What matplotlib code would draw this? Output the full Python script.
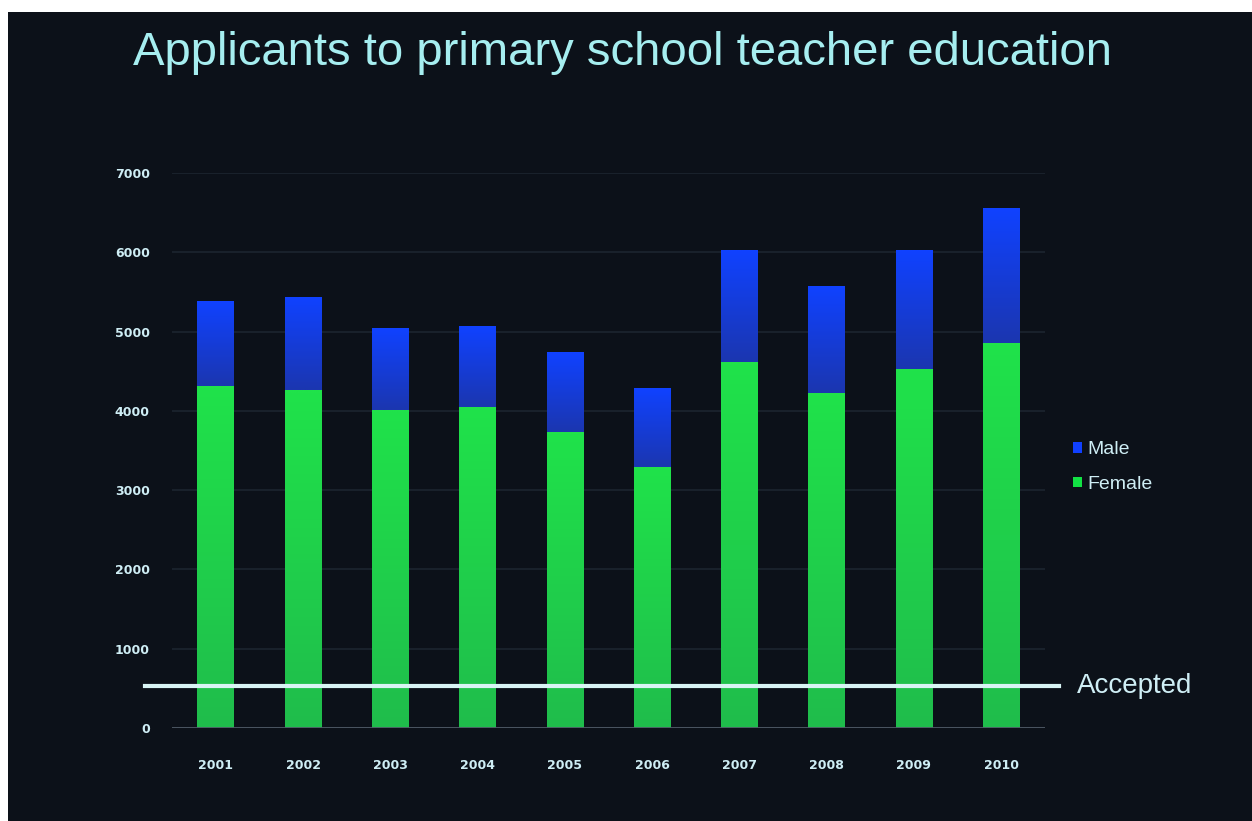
import numpy as np
import matplotlib.pyplot as plt
from matplotlib.colors import to_rgb
from matplotlib.patches import Rectangle

# values
years = ["2001", "2002", "2003", "2004", "2005", "2006", "2007", "2008", "2009", "2010"]
female = [4320, 4260, 4010, 4050, 3730, 3290, 4615, 4225, 4530, 4860]
total = [5380, 5430, 5040, 5060, 4730, 4280, 6020, 5570, 6020, 6560]
male = [t - f for t, f in zip(total, female)]
accepted = 530

bg = "#0c1119"
text_col = "#cfeef5"


def shade(ax, bars, top, bottom):
    # vertical gradient inside each bar, like the slide
    g = np.linspace(0, 1, 64)[:, None, None]
    img = np.array(to_rgb(top)) * (1 - g) + np.array(to_rgb(bottom)) * g
    for p in bars:
        x0, y0, w, h = p.get_x(), p.get_y(), p.get_width(), p.get_height()
        ax.imshow(img, extent=[x0, x0 + w, y0, y0 + h], aspect="auto",
                  origin="upper", zorder=3.5, interpolation="bilinear")


fig = plt.figure(figsize=(12.52, 8.21), dpi=100, facecolor="white")
# dark slide with thin white strip at top and left (photo margin)
fig.add_artist(Rectangle((8 / 1252, 0), 1, 1 - 12 / 821, transform=fig.transFigure,
                         facecolor=bg, edgecolor="none", zorder=-10))

ax = fig.add_axes([0.1375, 0.1133, 0.697, 0.6757])
ax.set_facecolor(bg)

x = np.arange(len(years))
fbars = ax.bar(x, female, width=0.42, color="#12e244", label="Female", zorder=3)
mbars = ax.bar(x, male, width=0.42, bottom=female, color="#1040ff", label="Male", zorder=3)
shade(ax, fbars, "#20e24a", "#1fbd4c")
shade(ax, mbars, "#1042ff", "#1b36b0")

ax.set_xlim(-0.5, len(years) - 0.5)
ax.set_ylim(0, 7000)
ax.set_yticks(range(0, 7001, 1000))
ax.set_xticks(x)
ax.set_xticklabels(years)
ax.tick_params(axis="both", length=0, colors=text_col, labelsize=9)
ax.tick_params(axis="x", pad=22)
ax.tick_params(axis="y", pad=16)
for lab in ax.get_xticklabels() + ax.get_yticklabels():
    lab.set_fontweight("bold")

ax.grid(axis="y", color="#19212b", lw=1.5, zorder=1)
for s in ax.spines.values():
    s.set_visible(False)
ax.axhline(0, color="#4f5a66", lw=2, zorder=4)

# accepted line runs a bit past the plot area
ax.axhline(accepted, xmin=-0.031, xmax=1.016, color="#d8f4f4", lw=3, clip_on=False, zorder=5)
ax.text(1.037, accepted, "Accepted", transform=ax.get_yaxis_transform(),
        color=text_col, fontsize=20, va="center", ha="left", family="Liberation Sans")

handles, labels = ax.get_legend_handles_labels()
leg = ax.legend(handles[::-1], labels[::-1], loc="center left", bbox_to_anchor=(1.012, 0.47),
                frameon=False, handlelength=0.45, handleheight=0.45, handletextpad=0.3,
                labelspacing=0.9, prop={"family": "Liberation Sans", "size": 14})
for t in leg.get_texts():
    t.set_color(text_col)

fig.text(0.497, 0.936, "Applicants to primary school teacher education", color="#a6eef0",
         fontsize=34, ha="center", va="center", family="Liberation Sans")

fig.savefig("out.png", dpi=100, facecolor=fig.get_facecolor())
